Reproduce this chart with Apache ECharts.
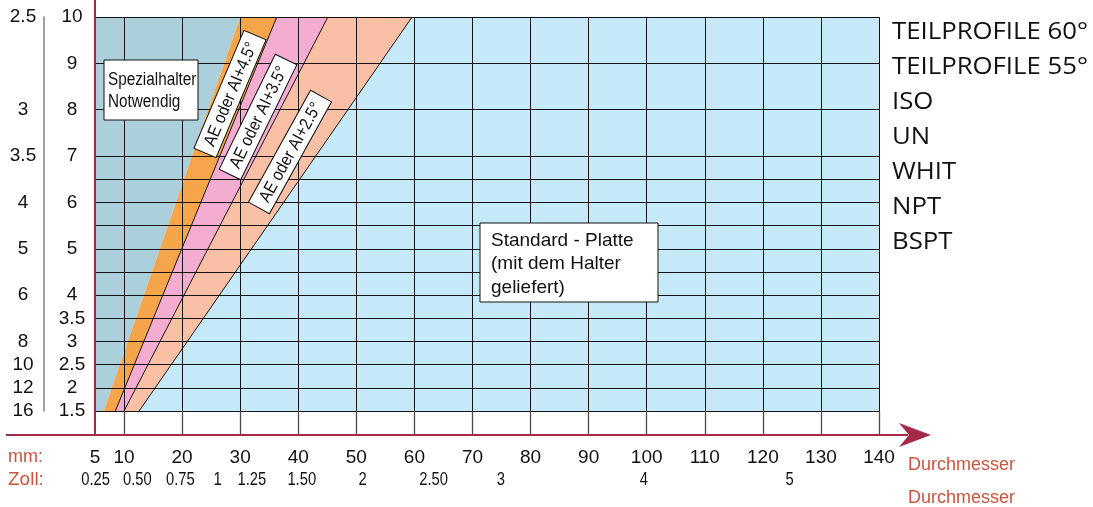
<!DOCTYPE html>
<html><head><meta charset="utf-8">
<script src="https://cdn.jsdelivr.net/npm/echarts@6/dist/echarts.min.js"></script>
<style>html,body{margin:0;padding:0;background:#fff}#c{width:1093px;height:507px}</style>
</head><body><div id="c"></div>
<script>
// ---- data ----
const xMin = 5, xMax = 140, yMin = 1.5, yMax = 10;
const xGridVals = [10,20,30,40,50,60,70,80,90,100,110,120,130,140];
const yGridVals = [1.5,2,2.5,3,3.5,4,4.5,5,5.5,6,6.5,7,8,9,10];
const mmTicks = [5,10,20,30,40,50,60,70,80,90,100,110,120,130,140];
const pitchTicks = [1.5,2,2.5,3,3.5,4,5,6,7,8,9,10];
const tpiPos = [10,8,7,6,5,4,3,2.5,2,1.5];
const tpiLabels = ['2.5','3','3.5','4','5','6','8','10','12','16'];
const zollPos = [5.1,12.3,19.7,26.1,32.0,40.6,51.1,63.3,74.9,99.5,124.6];
const zollLabels = ['0.25','0.50','0.75','1','1.25','1.50','2','2.50','3','4','5'];
// band boundaries: x at pitch 1.5 (bottom) and at pitch 10 (top)
const bandBottom = [6.5, 8.5, 10.0, 12.6];
const bandTop = [30.0, 36.3, 45.1, 59.6];
const bandNames = ['Spezialhalter', 'AE oder AI+4.5°', 'AE oder AI+3.5°', 'AE oder AI+2.5°', 'Standard-Platte'];
const profiles = ['TEILPROFILE 60°','TEILPROFILE 55°','ISO','UN','WHIT','NPT','BSPT'];

// ---- styles ----
const regionColors = ['#abd0dc','#f7a54b','#f4add0','#f9c0a5','#c6e9f9'];
const RED = '#a52a4a';
const ORANGE_TXT = '#c8553d';
const F = '"Liberation Sans", Arial, sans-serif';
const NARROW = 0.82;

function regionPoly(i){
  const L = i === 0 ? [[xMin,yMin],[xMin,yMax]] : [[bandBottom[i-1],yMin],[bandTop[i-1],yMax]];
  const R = i === 4 ? [[xMax,yMin],[xMax,yMax]] : [[bandBottom[i],yMin],[bandTop[i],yMax]];
  return [L[0], R[0], R[1], L[1]];
}

const chart = echarts.init(document.getElementById('c'), null, {renderer:'canvas'});

const series = [];
series.push({
  type:'custom', xAxisIndex:0, yAxisIndex:0, z:1, silent:true,
  data: bandNames.map((n,i)=>[i]),
  renderItem: function(params, api){
    const idx = api.value(0);
    const pts = regionPoly(idx).map(p => api.coord(p));
    return {type:'polygon', shape:{points:pts}, style:{fill:regionColors[idx]}};
  }
});
// grid lines in the plot
series.push({
  type:'line', xAxisIndex:0, yAxisIndex:0, z:3, silent:true,
  data:[[xMin,yMin]], showSymbol:false, lineStyle:{opacity:0},
  markLine:{
    silent:true, symbol:'none', animation:false, label:{show:false},
    lineStyle:{color:'#141414', width:1, type:'solid'},
    data: xGridVals.map(v=>({xAxis:v})).concat(yGridVals.map(v=>({yAxis:v})))
  }
});
// band boundary lines (orange/pink, pink/salmon, salmon/blue)
[1,2,3].forEach(i=>{
  series.push({
    type:'line', xAxisIndex:0, yAxisIndex:0, z:4, silent:true, showSymbol:false,
    data:[[bandBottom[i],yMin],[bandTop[i],yMax]],
    lineStyle:{color:'#111', width:1}
  });
});
// grid lines in the lower strip
series.push({
  type:'line', xAxisIndex:1, yAxisIndex:2, z:3, silent:true,
  data:[[xMin,0]], showSymbol:false, lineStyle:{opacity:0},
  markLine:{
    silent:true, symbol:'none', animation:false, label:{show:false},
    lineStyle:{color:'#4a4a4a', width:1.3, type:'solid'},
    data: xGridVals.map(v=>({xAxis:v}))
  }
});
// Zoll labels (inch scale)
series.push({
  type:'custom', xAxisIndex:1, yAxisIndex:2, z:5, silent:true, clip:false,
  data: zollPos.map((x,i)=>[x, 0, i]),
  renderItem: function(params, api){
    const p = api.coord([api.value(0), api.value(1)]);
    return {type:'text', x:p[0], y:p[1] + 45, scaleX:NARROW,
      style:{text:zollLabels[api.value(2)], font:'18px '+F, fill:'#111', textAlign:'center', textVerticalAlign:'middle'}};
  }
});

const rot = (cx, cy, deg, text, w) => ({
  type:'group', x:cx, y:cy, rotation: deg*Math.PI/180, z:10,
  children:[
    {type:'rect', z:10, shape:{x:-w/2, y:-12, width:w, height:24}, style:{fill:'#fff', stroke:'#111', lineWidth:1}},
    {type:'text', z:11, x:0, y:1, scaleX:0.88, style:{text:text, textAlign:'center', textVerticalAlign:'middle', font:'17.5px '+F, fill:'#111'}}
  ]
});

const graphics = [
  {type:'line', shape:{x1:95,y1:0,x2:95,y2:435}, style:{stroke:RED, lineWidth:2}, z:20},
  {type:'line', shape:{x1:6,y1:435,x2:908,y2:435}, style:{stroke:RED, lineWidth:2}, z:20},
  {type:'polygon', shape:{points:[[931,435],[899,423],[909,435],[899,447]]}, style:{fill:RED}, z:20},
  {type:'text', x:8, y:457, style:{text:'mm:', font:'18px '+F, fill:ORANGE_TXT, textVerticalAlign:'middle'}},
  {type:'text', x:8, y:480, style:{text:'Zoll:', font:'19px '+F, fill:ORANGE_TXT, textVerticalAlign:'middle'}},
  {type:'text', x:908, y:465, style:{text:'Durchmesser', font:'18px '+F, fill:ORANGE_TXT, textVerticalAlign:'middle'}},
  {type:'text', x:908, y:498, style:{text:'Durchmesser', font:'18px '+F, fill:ORANGE_TXT, textVerticalAlign:'middle'}},
  {type:'rect', shape:{x:104,y:60,width:94,height:60}, style:{fill:'#fff', stroke:'#111', lineWidth:1}, z:10},
  {type:'text', x:108, y:91, z:11, scaleX:0.85, style:{text:'Spezialhalter\nNotwendig', font:'18px '+F, fill:'#111', lineHeight:22, textVerticalAlign:'middle'}},
  {type:'rect', shape:{x:480,y:223,width:178,height:79}, style:{fill:'#fff', stroke:'#111', lineWidth:1}, z:10},
  {type:'text', x:491, y:264, z:11, style:{text:'Standard - Platte\n(mit dem Halter\ngeliefert)', font:'19px '+F, fill:'#111', lineHeight:23.5, textVerticalAlign:'middle'}},
  rot(230, 94, 67, bandNames[1], 128),
  rot(258, 117, 64, bandNames[2], 128),
  rot(290, 152, 61, bandNames[3], 128)
];
profiles.forEach((t,i)=>{
  graphics.push({type:'text', x:892, y:32 + i*35, scaleX:1.12, style:{text:t, font:'23px "Open Sans", "Noto Sans", sans-serif', fill:'#111', textVerticalAlign:'middle'}});
});

chart.setOption({
  animation:false,
  backgroundColor:'#fff',
  grid:[
    {left:95, width:784, top:17, height:394},
    {left:95, width:784, top:411, height:24}
  ],
  xAxis:[
    {type:'value', gridIndex:0, min:xMin, max:xMax, show:false},
    {type:'value', gridIndex:1, min:xMin, max:xMax, interval:5,
      axisLine:{show:false}, axisTick:{show:false}, splitLine:{show:false},
      axisLabel:{show:true, margin:13, color:'#111', fontFamily:F, fontSize:19,
        showMinLabel:true, showMaxLabel:true, hideOverlap:false,
        formatter: v => mmTicks.indexOf(v) >= 0 ? String(v) : ''}}
  ],
  yAxis:[
    {type:'value', gridIndex:0, min:yMin, max:yMax, interval:0.5,
      axisLine:{show:false}, axisTick:{show:false}, splitLine:{show:false},
      axisLabel:{show:true, align:'center', margin:23, color:'#111', fontFamily:F, fontSize:19,
        showMinLabel:true, showMaxLabel:true,
        formatter: v => pitchTicks.indexOf(v) >= 0 ? String(v) : ''}},
    {type:'value', gridIndex:0, min:yMin, max:yMax, interval:0.5, position:'left', offset:51,
      axisLine:{show:true, lineStyle:{color:'#808080', width:1.5}}, axisTick:{show:false}, splitLine:{show:false},
      axisLabel:{show:true, align:'center', margin:21, color:'#111', fontFamily:F, fontSize:19,
        showMinLabel:true, showMaxLabel:true,
        formatter: v => { const k = tpiPos.indexOf(v); return k >= 0 ? tpiLabels[k] : ''; }}},
    {type:'value', gridIndex:1, min:0, max:1, show:false}
  ],
  series: series,
  graphic: graphics
});
</script>
</body></html>
